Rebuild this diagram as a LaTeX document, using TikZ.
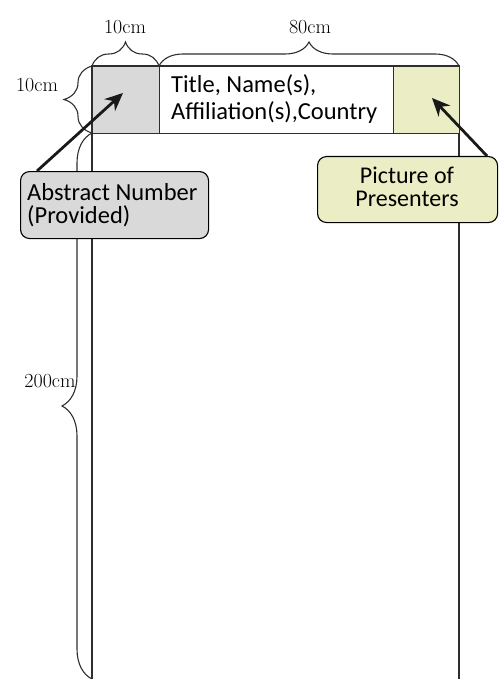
\documentclass[tikz,border=0pt]{standalone}
\usepackage{fontspec}
\newfontfamily\calib{Carlito}
\usetikzlibrary{decorations.pathreplacing,arrows.meta}
\definecolor{lc}{HTML}{2E2E2E}
\definecolor{gfill}{HTML}{D9D9D9}
\definecolor{yfill}{HTML}{EBEDC4}
\tikzset{
  brc/.style={draw=lc, line width=1.1pt, decorate, decoration={brace, amplitude=#1}},
  dimlbl/.style={font=\fontsize{20}{22}\selectfont},
  cell/.style={draw=lc, line width=1.2pt, minimum width=0pt, inner sep=0pt},
  callout/.style={draw=black, line width=1.1pt, rounded corners=9pt, inner sep=0pt},
  bigarrow/.style={-{Stealth[length=18pt,width=16pt]}, line width=2.8pt, draw=black!90},
}
\begin{document}
\begin{tikzpicture}[x=1pt,y=-1pt]
\useasboundingbox (0,0) rectangle (499,679);
% main frame
\draw[lc, line width=1.2pt] (92,679) -- (92,66) -- (459,66) -- (459,679);
% header cells
\node[cell, fill=gfill, anchor=north west, minimum width=67pt, minimum height=67pt] (num) at (92,66) {};
\node[cell, anchor=north west, minimum width=234pt, minimum height=67pt] (title) at (159,66) {};
\node[cell, fill=yfill, anchor=north west, minimum width=66pt, minimum height=67pt] (pic) at (393,66) {};
\node[anchor=base west, align=left, font=\calib\fontsize{24.5}{27}\selectfont, inner sep=0pt] (titletxt) at (171,120) {Title, Name(s),\\Affiliation(s),Country};
% braces
\draw[brc=24pt] (92,66) -- (159,66);
\draw[brc=24pt] (159,66) -- (459,66);
\draw[brc=28pt] (92,133) -- (92,66);
\draw[brc=30pt] (92,679) -- (92,133);
\node[dimlbl] (d1) at (125,27) {10cm};
\node[dimlbl] (d2) at (310,27) {80cm};
\node[dimlbl] (d3) at (37,85) {10cm};
\node[dimlbl] (d4) at (50,381) {200cm};
% callouts
\node[callout, fill=gfill, anchor=north west, minimum width=188pt, minimum height=67pt] (abs) at (20,171) {};
\node[anchor=base west, align=left, font=\calib\fontsize{24.5}{23}\selectfont, inner sep=0pt] (abstxt) at (27,223) {Abstract Number\\(Provided)};
\node[callout, fill=yfill, anchor=north west, minimum width=180pt, minimum height=66pt] (pres) at (317,156) {};
\node[anchor=base, align=center, font=\calib\fontsize{24}{23}\selectfont, inner sep=0pt] (prestxt) at (407,206) {Picture of\\Presenters};
% arrows
\coordinate (absstart) at (37,171);
\coordinate (abstip) at (123,93);
\coordinate (presstart) at (487,156);
\coordinate (prestip) at (432,98);
\draw[bigarrow] (absstart) -- (abstip);
\draw[bigarrow] (presstart) -- (prestip);
\end{tikzpicture}
\end{document}
